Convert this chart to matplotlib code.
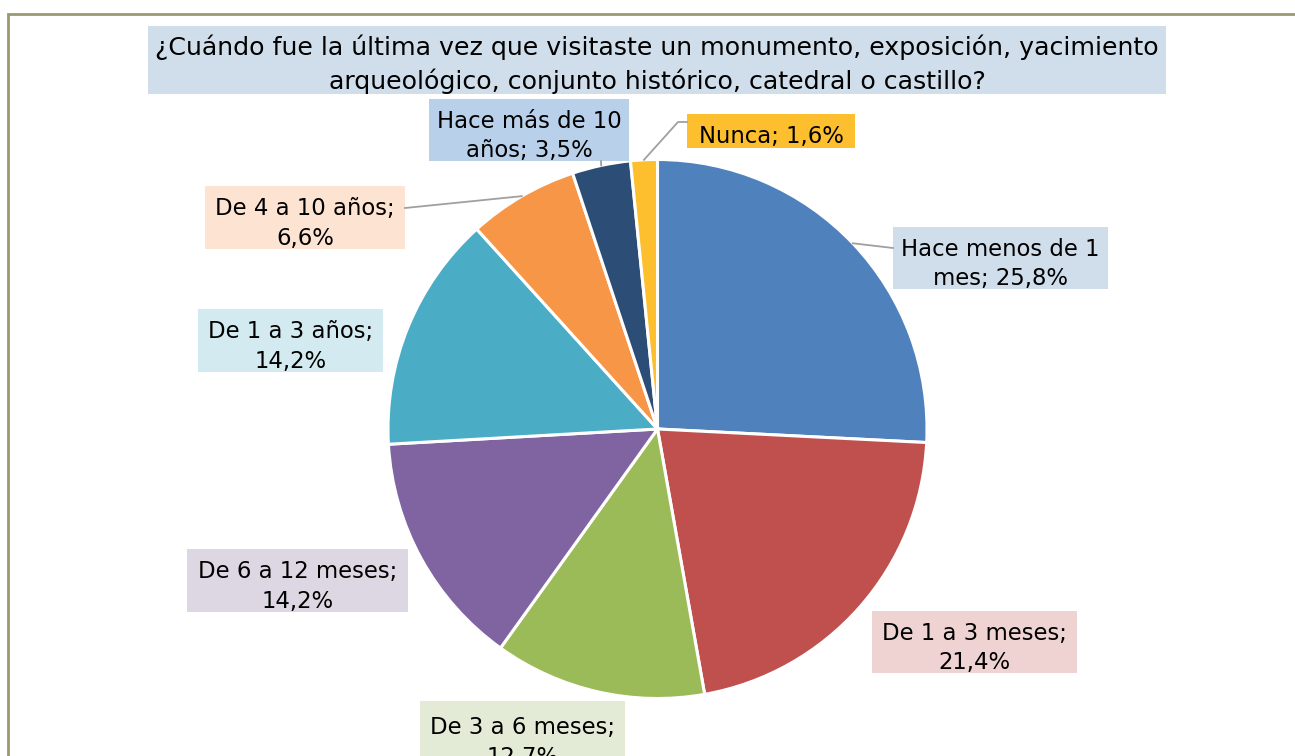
import numpy as np
import matplotlib
matplotlib.use("Agg")
import matplotlib.pyplot as plt
from matplotlib.patches import Rectangle

# ---- Data ------------------------------------------------------------------
title = ("¿Cuándo fue la última vez que visitaste un monumento, exposición, yacimiento\n"
         "arqueológico, conjunto histórico, catedral o castillo?")
categories = ["Hace menos de 1 mes", "De 1 a 3 meses", "De 3 a 6 meses",
              "De 6 a 12 meses", "De 1 a 3 años", "De 4 a 10 años",
              "Hace más de 10 años", "Nunca"]
shares = [25.8, 21.4, 12.7, 14.2, 14.2, 6.6, 3.5, 1.6]
label_texts = ["Hace menos de 1\nmes; 25,8%", "De 1 a 3 meses;\n21,4%",
               "De 3 a 6 meses;\n12,7%", "De 6 a 12 meses;\n14,2%",
               "De 1 a 3 años;\n14,2%", "De 4 a 10 años;\n6,6%",
               "Hace más de 10\naños; 3,5%", "Nunca; 1,6%"]

# ---- Style -----------------------------------------------------------------
W, H = 1295, 756
slice_colors = ["#4F81BD", "#C0504D", "#9BBB59", "#8064A2",
                "#4BACC6", "#F79646", "#2C4D75", "#FDBF2D"]
label_bg = ["#D0DDEB", "#EFD3D2", "#E3EBD6", "#DDD7E3",
            "#D2EAF0", "#FDE3D1", "#B8D0EA", "#FDBF2D"]
# label boxes in pixel coords: (left, top, right, bottom)
label_boxes = [(893, 227, 1108, 289), (872, 611, 1077, 673),
               (420, 701, 625, 772), (187, 549, 408, 612),
               (198, 309, 383, 372), (205, 186, 405, 249),
               (429, 99, 629, 161), (687, 114, 855, 148)]
# leader end points (pixel coords) or None
leaders = [[(893, 248)], None, None, None, None,
           [(405, 208)], [(601, 161)], [(678, 122), (687, 122)]]
cx, cy, R = 657.5, 429.0, 269.5
FS = 16.4
TITLE_FS = 18.2


def py(y):
    return H - y


fig = plt.figure(figsize=(W / 100, H / 100), dpi=100)
ax = fig.add_axes([0, 0, 1, 1])

ax.pie(shares, colors=slice_colors, startangle=90, counterclock=False,
       center=(cx, py(cy)), radius=R,
       wedgeprops=dict(edgecolor="white", linewidth=2.2))
ax.set_xlim(0, W)
ax.set_ylim(0, H)
ax.set_aspect("equal")
ax.axis("off")

# chart frame
ax.add_patch(Rectangle((8, py(H + 20)), W + 20, (H + 20) - 14, fill=False,
                       edgecolor="#9C9872", linewidth=2, clip_on=False))

# title
ax.add_patch(Rectangle((148, py(94)), 1166 - 148, 94 - 26,
                       facecolor="#D0DDEB", edgecolor="none"))
ax.text((148 + 1166) / 2, py(64), title, ha="center", va="center",
        fontsize=TITLE_FS, linespacing=1.4, color="black")

# data labels + leader lines
cum = np.cumsum([0] + shares[:-1])
for i, txt in enumerate(label_texts):
    l, t, r, b = label_boxes[i]
    ax.add_patch(Rectangle((l, py(b)), r - l, b - t,
                           facecolor=label_bg[i], edgecolor="none"))
    ax.text((l + r) / 2, py((t + b) / 2 + 6), txt, ha="center", va="center",
            fontsize=FS, linespacing=1.38, color="black")
    if leaders[i] is not None:
        mid = np.deg2rad(90 - (cum[i] + shares[i] / 2) / 100 * 360)
        pts = [(cx + R * np.cos(mid), cy - R * np.sin(mid))] + leaders[i]
        xs = [p[0] for p in pts]
        ys = [py(p[1]) for p in pts]
        ax.plot(xs, ys, color="#A0A0A0", linewidth=1.3)

fig.savefig("out.png", dpi=100)
